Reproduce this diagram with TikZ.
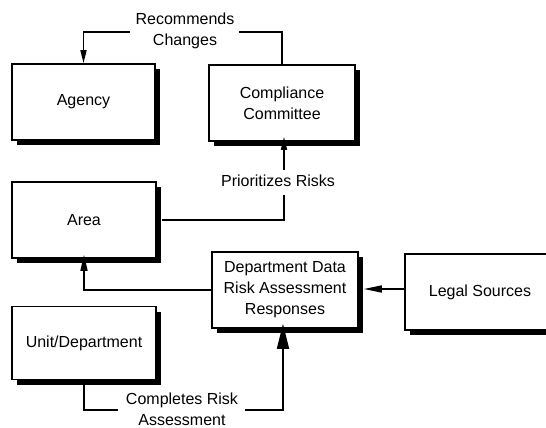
\documentclass[tikz,border=0pt]{standalone}
\usepackage{fontspec}
\setmainfont{Liberation Sans}
\usetikzlibrary{arrows.meta,shadows}
\begin{document}
\begin{tikzpicture}[x=1pt,y=-1pt,
  box/.style={draw=black, line width=1.6pt, fill=white, minimum width=#1, minimum height=76pt,
    inner sep=0pt, align=center, font=\fontsize{16pt}{21pt}\selectfont,
    drop shadow={shadow xshift=5pt, shadow yshift=-5pt, opacity=1, fill=black}},
  box/.default=144pt,
  lbl/.style={align=center, font=\fontsize{16pt}{21pt}\selectfont, inner sep=1pt},
  conn/.style={line width=1.6pt},
  headS/.style={-{Triangle[length=13pt,width=6pt]}},
  headL/.style={-{Triangle[length=25pt,width=12pt]}}
]
\useasboundingbox (0,0) rectangle (546,428);
\node[box=143pt] (agency) at (83.5,102) {Agency};
\node[box=146pt] (committee) at (282,103) {Compliance\\Committee};
\node[box] (area) at (84,220) {Area};
\node[box=146pt] (dept) at (285,290) {Department Data\\Risk Assessment\\Responses};
\node[box=150pt] (legal) at (480,292) {Legal Sources};
\node[box, minimum height=73pt] (unit) at (84,343) {Unit/Department};

\node[lbl] (recommends) at (185,31) {Recommends\\Changes};
\node[lbl] (prioritizes) at (278,181) {Prioritizes Risks};
\node[lbl] (completes) at (182,409) {Completes Risk\\Assessment};

\coordinate (recL) at (130,32);
\coordinate (recR) at (239,32);
\coordinate (priT) at (284,170);
\coordinate (priB) at (284,195);
\coordinate (comL) at (118,410);
\coordinate (comR) at (245,410);

\draw[conn,headS] (recL) -| (agency.north);
\draw[conn] (recR) -| (committee.north);
\draw[conn,headS] (priT) -- ([yshift=5pt]committee.south -| priT);
\draw[conn] (priB) |- ([xshift=5pt]area.east);
\draw[conn,-{Triangle[length=16pt,width=7pt]}] (dept.west) -| ([yshift=4pt]area.south);
\draw[conn,-{Triangle[length=18pt,width=7pt]}] (legal.west |- 0,289) -- ([xshift=5pt]dept.east |- 0,289);
\draw[conn] (unit.south) |- (comL);
\draw[conn,headL] (comR) -| ([yshift=5pt]dept.south -| 283,0);
\end{tikzpicture}
\end{document}
